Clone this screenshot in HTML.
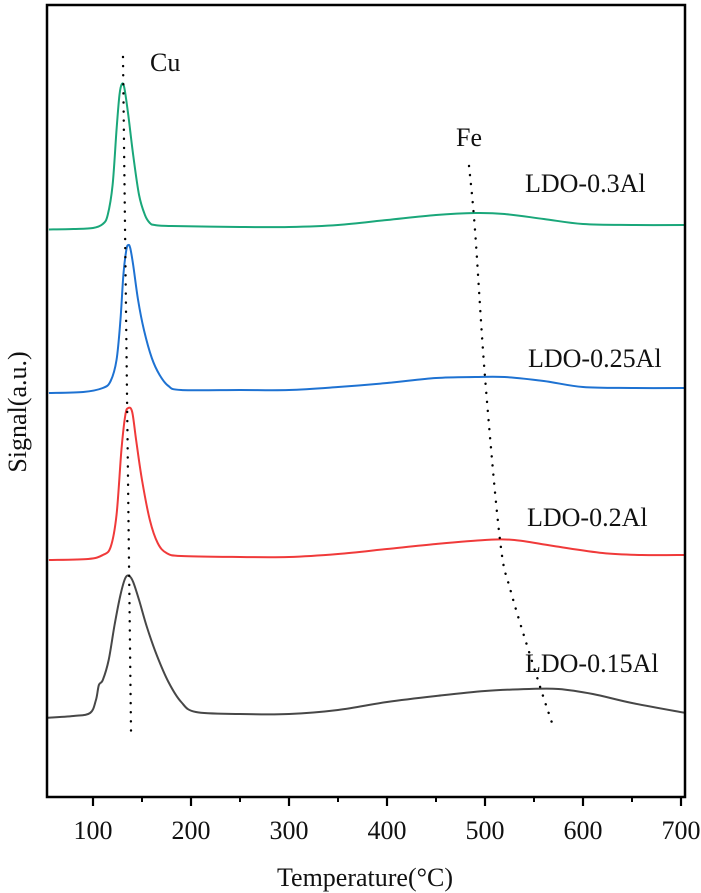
<!DOCTYPE html>
<html><head><meta charset="utf-8">
<style>
html,body{margin:0;padding:0;background:#fff;}
svg{display:block;}
text{font-family:"Liberation Serif",serif;fill:#111;}
</style></head>
<body>
<svg id="chart" width="701" height="893" viewBox="0 0 701 893" xmlns="http://www.w3.org/2000/svg">
<defs><clipPath id="plotclip"><rect x="48" y="5" width="636" height="791"/></clipPath></defs>
<g id="series" clip-path="url(#plotclip)"></g>
<g id="guides"></g>
<rect x="47" y="5" width="638" height="792" fill="none" stroke="#000" stroke-width="2.5"/>
<g id="ticks"></g>
<text x="365" y="886" text-anchor="middle" font-size="26">Temperature(°C)</text>
<text x="0" y="0" transform="translate(26,412) rotate(-90)" text-anchor="middle" font-size="26">Signal(a.u.)</text>
<text x="150" y="71" font-size="26">Cu</text>
<text x="469" y="146" text-anchor="middle" font-size="26">Fe</text>
<text x="525" y="192" font-size="26">LDO-0.3Al</text>
<text x="528" y="367" font-size="26">LDO-0.25Al</text>
<text x="527" y="526" font-size="26">LDO-0.2Al</text>
<text x="525" y="672" font-size="26">LDO-0.15Al</text>
</svg>
<script>
const xTicks = [100,200,300,400,500,600,700];
const xMinorTicks = [150,250,350,450,550,650];

const greenT = [55,80,100,110,115,120,124,127,129.5,132,136,141,147,153,158,163,180,250,300,350,400,450,490,520,560,600,650,705];
const greenS = [567.5,568,569,573,582,612,667,702,713,709,682,642,602,582,574,572,571,570,570,572,577,582,584,583,578,573,572,572];

const blueT = [55,90,110,118,124,128,131,134,136,138,141,146,152,160,168,177,190,250,300,350,400,450,490,520,560,600,650,705];
const blueS = [404,405,409,416,437,477,522,547,552,549,532,497,467,439,422,411,407,407,407,410,414,419,420,420,416,410,409,409];

const redT = [55,95,110,118,124,129,133,136,140,144,150,158,166,175,190,250,300,350,400,450,500,530,570,620,660,705];
const redS = [237,238,242,250,282,347,382,389,385,357,317,277,254,244,241,240,240,243,248,253,257,257,251,244,242,242];

const blackT = [50,80,97,103,106,110,116,122,128,133,137,141,147,155,165,177,190,205,250,300,350,400,450,500,545,575,610,650,705];
const blackS = [79,81,84,97,112,117,137,172,202,219,221,215,197,170,142,115,95,85,83,83,87,95,101,106,108,108,103,94,84];

const cuGuideT = [130.6,138.8];
const cuGuideS = [740,65];
const feGuideT = [483.7,489.8,500,515.3,526.5,554,568.4];
const feGuideS = [631,567,420,257,205,117,74];

const NS = "http://www.w3.org/2000/svg";
function xs(t){ return 93 + (t - 100) * 0.98; }
function ys(s){ return 797 - s; }

function smoothPath(T, S){
  const p = T.map((t,i)=>[xs(t), ys(S[i])]);
  let d = "M" + p[0][0].toFixed(2) + "," + p[0][1].toFixed(2);
  for (let i=0;i<p.length-1;i++){
    const p0 = p[i-1]||p[i], p1=p[i], p2=p[i+1], p3=p[i+2]||p2;
    const c1x = p1[0]+(p2[0]-p0[0])/6, c1y = p1[1]+(p2[1]-p0[1])/6;
    const c2x = p2[0]-(p3[0]-p1[0])/6, c2y = p2[1]-(p3[1]-p1[1])/6;
    d += " C"+c1x.toFixed(2)+","+c1y.toFixed(2)+" "+c2x.toFixed(2)+","+c2y.toFixed(2)+" "+p2[0].toFixed(2)+","+p2[1].toFixed(2);
  }
  return d;
}

const sg = document.getElementById('series');
function addSeries(T,S,color,name){
  const el = document.createElementNS(NS,'path');
  el.setAttribute('d', smoothPath(T,S));
  el.setAttribute('fill','none');
  el.setAttribute('stroke',color);
  el.setAttribute('stroke-width','2');
  el.setAttribute('stroke-linejoin','round');
  
  
  sg.appendChild(el);
}
addSeries(greenT,greenS,'#1aa77a','series-ldo-0.3al');
addSeries(blueT,blueS,'#1e72d2','series-ldo-0.25al');
addSeries(redT,redS,'#f03a3a','series-ldo-0.2al');
addSeries(blackT,blackS,'#474747','series-ldo-0.15al');

const gg = document.getElementById('guides');
function addGuide(T,S,name){
  const el = document.createElementNS(NS,'path');
  el.setAttribute('d', smoothPath(T,S));
  el.setAttribute('fill','none');
  el.setAttribute('stroke','#000');
  el.setAttribute('stroke-width','2.4');
  el.setAttribute('stroke-dasharray','0.1 9');
  el.setAttribute('stroke-linecap','round');
  
  
  gg.appendChild(el);
}
addGuide(cuGuideT,cuGuideS,'cu-guide-line');
addGuide(feGuideT,feGuideS,'fe-guide-line');

const tg = document.getElementById('ticks');
xTicks.forEach(t=>{
  const l = document.createElementNS(NS,'line');
  l.setAttribute('x1',xs(t)); l.setAttribute('x2',xs(t));
  l.setAttribute('y1',797); l.setAttribute('y2',806);
  l.setAttribute('stroke','#000'); l.setAttribute('stroke-width','2.2');
  
  
  tg.appendChild(l);
  const tx = document.createElementNS(NS,'text');
  tx.setAttribute('x',xs(t)); tx.setAttribute('y',839);
  tx.setAttribute('text-anchor','middle'); tx.setAttribute('font-size','26');
  tx.textContent = String(t);
  
  
  tg.appendChild(tx);
});
xMinorTicks.forEach(t=>{
  const l = document.createElementNS(NS,'line');
  l.setAttribute('x1',xs(t)); l.setAttribute('x2',xs(t));
  l.setAttribute('y1',797); l.setAttribute('y2',802);
  l.setAttribute('stroke','#000'); l.setAttribute('stroke-width','2');
  
  
  tg.appendChild(l);
});
</script>
</body></html>
